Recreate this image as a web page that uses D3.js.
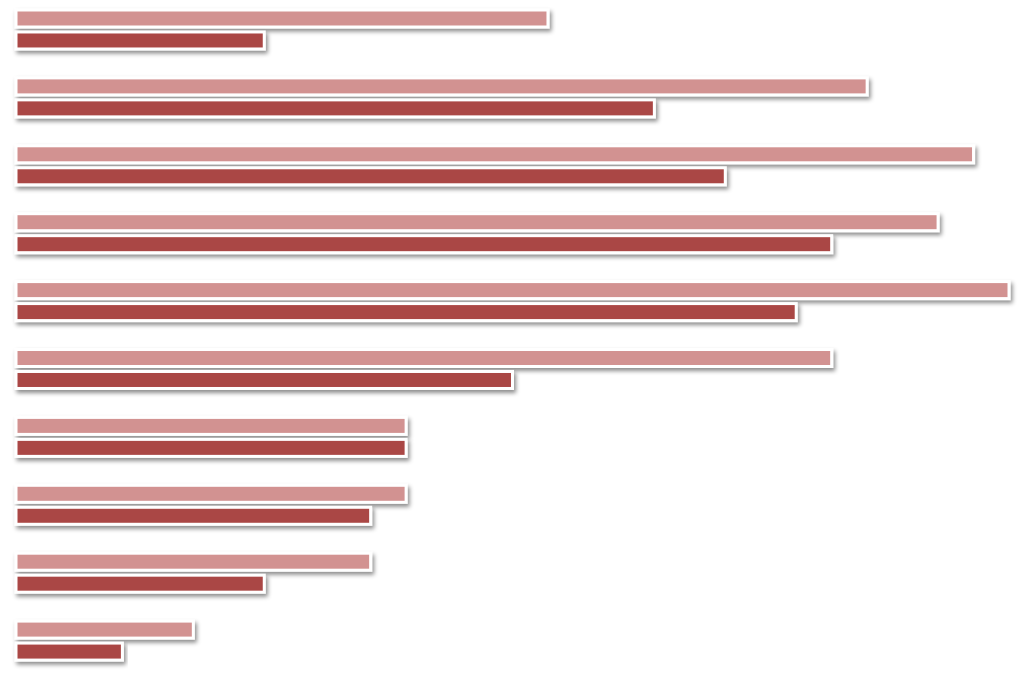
<!DOCTYPE html>
<html><head><meta charset="utf-8">
<script src="https://cdn.jsdelivr.net/npm/d3@7"></script>
<style>html,body{margin:0;padding:0;background:#fff;}svg{display:block;}</style>
</head><body>
<script>
const categories = ["G1","G2","G3","G4","G5","G6","G7","G8","G9","G10"];
const seriesNames = ["A","B"];
const seriesA = [15,24,27,26,28,23,11,11,10,5];
const seriesB = [7,18,20,23,22,14,11,10,7,3];
const colors = ["#d29291","#aa4644"];

const W = 1024, H = 681;
const svg = d3.select("body").append("svg").attr("width", W).attr("height", H);
const defs = svg.append("defs");
const f = defs.append("filter").attr("id","sh").attr("x","-5%").attr("y","-50%").attr("width","110%").attr("height","250%");
f.append("feDropShadow").attr("dx",2).attr("dy",3).attr("stdDeviation",2.2).attr("flood-color","#000").attr("flood-opacity",0.45);

const x = d3.scaleLinear().domain([0,28]).range([16,1009]);
const pIn = 0.426;
const step = 67.9;
const y = d3.scaleBand().domain(categories).range([10, 10 + step*(categories.length - pIn)]).paddingInner(pIn).paddingOuter(0);
const yi = d3.scaleBand().domain(seriesNames).range([0, y.bandwidth()]).paddingInner(0.227).paddingOuter(0);

const data = categories.map((c,i)=>({c, vals:[{s:"A",v:seriesA[i]},{s:"B",v:seriesB[i]}]}));
const g = svg.append("g");
const grp = g.selectAll("g.grp").data(data).join("g").attr("transform", d=>`translate(0,${y(d.c)})`);
grp.selectAll("rect").data(d=>d.vals).join("rect")
  .attr("x", x(0))
  .attr("y", d=>yi(d.s))
  .attr("width", d=>x(d.v)-x(0))
  .attr("height", yi.bandwidth())
  .attr("fill", (d,i)=>colors[i])
  .attr("stroke","#fff").attr("stroke-width",3)
  .attr("filter","url(#sh)");
</script>
</body></html>
